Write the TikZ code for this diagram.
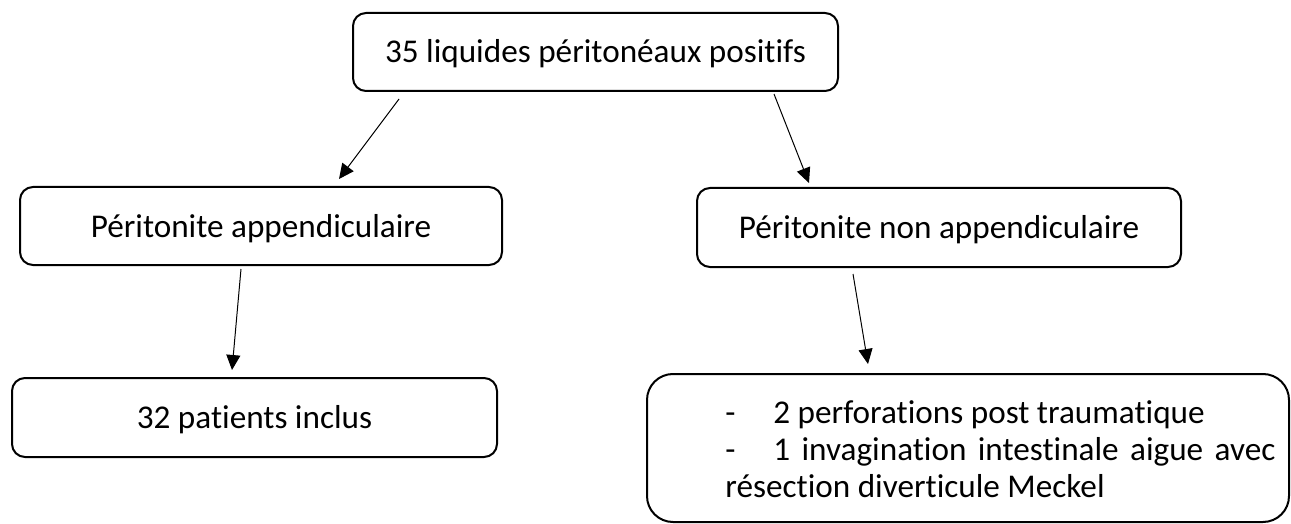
\documentclass[tikz,border=0pt]{standalone}
\usepackage{fontspec}
\setmainfont{Carlito}[Ligatures={NoCommon}]
\usetikzlibrary{arrows.meta}
\begin{document}
\begin{tikzpicture}[x=0.5pt,y=-0.5pt,
  txt/.style={font=\fontsize{16.6}{18.5}\selectfont},
  box/.style={draw, line width=1pt, rounded corners=6.5pt, inner sep=0pt, txt,
    text height=13pt, text depth=2pt},
  arr/.style={-{Triangle[length=7.5pt,width=7pt]}, line width=0.5pt}]
\useasboundingbox (0,0) rectangle (1291,524);
\node[box, minimum width=242.5pt, minimum height=39pt] (top) at (595.5,52) {35 liquides péritonéaux positifs};
\node[box, minimum width=241pt, minimum height=39pt] (left) at (261,226) {Péritonite appendiculaire};
\node[box, minimum width=242pt, minimum height=39.5pt] (right) at (939,227.5) {Péritonite non appendiculaire};
\node[box, minimum width=242.5pt, minimum height=39.5pt] (incl) at (254.5,417.5) {32 patients inclus};
\node[box, rounded corners=13pt, minimum width=321pt, minimum height=74pt] (other) at (968,448) {};
\node[anchor=base west, inner sep=0pt, text width=275pt, align=justify, txt] (list) at (725,423)
  {\noindent\makebox[24pt][l]{-}2 perforations post traumatique\par
   \hangindent=24pt\hangafter=1
   \noindent\makebox[24pt][l]{-}1 invagination intestinale aigue avec\linebreak résection diverticule Meckel};
\coordinate (a1s) at (399,99);  \coordinate (a1e) at (339,179);
\coordinate (a2s) at (774,94);  \coordinate (a2e) at (809,183);
\coordinate (a3s) at (241,269); \coordinate (a3e) at (232,370);
\coordinate (a4s) at (853,274); \coordinate (a4e) at (868,364);
\draw[arr] (a1s) -- (a1e);
\draw[arr] (a2s) -- (a2e);
\draw[arr] (a3s) -- (a3e);
\draw[arr] (a4s) -- (a4e);
\end{tikzpicture}
\end{document}
